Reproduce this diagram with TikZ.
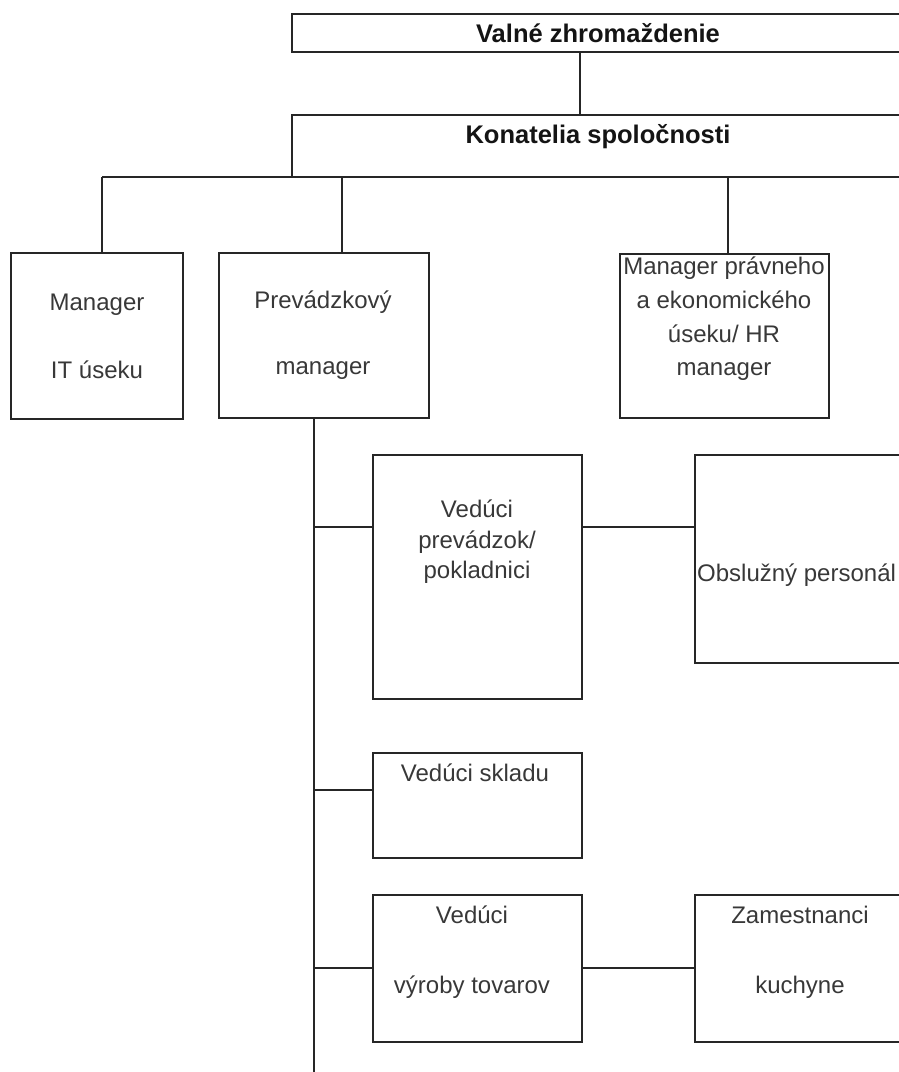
\documentclass[tikz,border=0pt]{standalone}
\usepackage{fontspec}
\setmainfont{Liberation Sans}
\usetikzlibrary{fit}

\begin{document}
\begin{tikzpicture}[x=1pt, y=-1pt,
box/.style = {draw=black!85, line width=1.6pt, inner sep=0pt, fit={#1}},
txt/.style = {text=black!78, font=\fontsize{24}{#1}\selectfont, align=center, inner sep=0pt},
txt/.default = 29,
head/.style = {text=black!92, font=\fontsize{25.5}{30}\selectfont\bfseries, inner sep=0pt},
wire/.style = {draw=black!85, line width=1.6pt}
                        ]
\useasboundingbox (0,0) rectangle (899,1072);
\clip (0,0) rectangle (899,1072);

    \node[box={(292,14) (905,52)}] (valne) {};
    \node[head] (valneT) at (598,33) {Valné zhromaždenie};
    \node[box={(292,115) (905,177)}] (konat) {};
    \node[head] (konatT) at (598,137) {Konatelia spoločnosti};
    \coordinate (vk) at (580,0);
    \draw[wire] (valne.south -| vk) -- (konat.north -| vk);

    \node[box={(11,253) (183,419)}] (itm) {};
    \node[txt=68] (itmT) at (97,336) {Manager\\IT úseku};
    \node[box={(219,253) (429,418)}] (prev) {};
    \node[txt=66] (prevT) at (323,335) {Prevádzkový\\manager};
    \node[box={(620,254) (829,418)}] (prav) {};
    \node[txt=33.7] (pravT) at (724,319) {Manager právneho\\a ekonomického\\úseku/ HR\\manager};

    \coordinate (b1) at (102,177);
    \coordinate (b2) at (342,177);
    \coordinate (b3) at (728,177);
    \coordinate (bR) at (899,177);
    \draw[wire] (b1) -- (bR);
    \draw[wire] (b1) -- (b1 |- itm.north);
    \draw[wire] (b2) -- (b2 |- prev.north);
    \draw[wire] (b3) -- (b3 |- prav.north);

    \coordinate (s0) at (314,0);
    \coordinate (sE) at (314,1072);
    \draw[wire] (prev.south -| s0) -- (sE);

    \node[box={(373,455) (582,699)}] (vprev) {};
    \node[txt=30.5] (vprevT) at (477,542) {Vedúci\\prevádzok/\\pokladnici};
    \node[box={(695,455) (910,663)}] (obsl) {};
    \node[txt, anchor=west] (obslT) at (697,575) {Obslužný personál};
    \coordinate (j1) at (314,527);
    \draw[wire] (j1) -- (j1 -| vprev.west);
    \draw[wire] (j1 -| vprev.east) -- (j1 -| obsl.west);

    \node[box={(373,753) (582,858)}] (sklad) {};
    \node[txt] (skladT) at (475,773) {Vedúci skladu};
    \coordinate (j2) at (314,790);
    \draw[wire] (j2) -- (j2 -| sklad.west);

    \node[box={(373,895) (582,1042)}] (vyr) {};
    \node[txt=70] (vyrT) at (472,952) {Vedúci\\výroby tovarov};
    \node[box={(695,895) (910,1042)}] (kuch) {};
    \node[txt=70] (kuchT) at (800,952) {Zamestnanci\\kuchyne};
    \coordinate (j3) at (314,968);
    \draw[wire] (j3) -- (j3 -| vyr.west);
    \draw[wire] (j3 -| vyr.east) -- (j3 -| kuch.west);

\end{tikzpicture}
\end{document}
